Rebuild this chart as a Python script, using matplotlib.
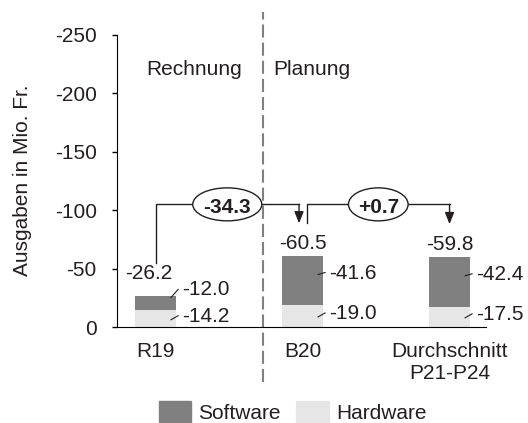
import numpy as np
import matplotlib.pyplot as plt
from matplotlib.patches import Patch, Ellipse

plt.rcParams['font.family'] = ['Liberation Sans', 'DejaVu Sans']
plt.rcParams['axes.unicode_minus'] = False

# data (Mio. Fr.)
categories = ['R19', 'B20', 'Durchschnitt\nP21-P24']
hardware = [-14.2, -19.0, -17.5]
software = [-12.0, -41.6, -42.4]
totals = [-26.2, -60.5, -59.8]
yticks = [0, -50, -100, -150, -200, -250]

sw_color = '#808080'
hw_color = '#e6e6e6'
txt = '#231f20'
fs = 15

W, H = 528, 423
fig = plt.figure(figsize=(W / 100, H / 100), dpi=100)
ax = fig.add_axes([117 / W, 1 - 327 / H, 369 / W, 292 / H])
x = np.arange(len(categories))
xlim = (-0.262, 2.248)
ax.set_xlim(*xlim)
ax.set_ylim(0, -250)

# pixel -> data helpers
sx = (xlim[1] - xlim[0]) / 369
sy = 250 / 292
def dpx(d):
    return d * sx
def upx(d):
    return d * sy

bw = 0.28
ax.bar(x, hardware, bw, color=hw_color, zorder=2)
ax.bar(x, software, bw, bottom=hardware, color=sw_color, zorder=2)

# total labels
tot_dx = [-7, 0, 0]
tot_lift = [17, 7, 7]
for i, t in enumerate(totals):
    ax.text(x[i] + dpx(tot_dx[i]), t - upx(tot_lift[i]), f'{t:.1f}',
            ha='center', va='baseline', fontsize=fs, color=txt)

# segment labels with leader lines
def seg_label(i, mid, base, value):
    right = x[i] + bw / 2
    ax.text(right + dpx(6), base, f'{value:.1f}', ha='left', va='baseline',
            fontsize=fs, color=txt)
    cy = base - upx(6)
    ax.plot([right - dpx(5), right + dpx(2)], [mid, cy], color=txt, lw=0.8,
            zorder=3)

sw_lift = [8, 2, 2]
for i in range(len(categories)):
    hmid = hardware[i] / 2
    hbase = hmid + upx(3)
    seg_label(i, hbase - upx(2), hbase, hardware[i])
    smid = hardware[i] + software[i] / 2
    sbase = smid - upx(sw_lift[i])
    seg_label(i, sbase - upx(6) + upx(sw_lift[i]), sbase, software[i])

# change brackets
renderer = fig.canvas.get_renderer()
bracket_y = -105
gap = 33
n = len(totals)
for i in range(n - 1):
    x0 = x[i] + (dpx(4.5) if i > 0 else 0)
    x1 = x[i + 1] - (dpx(3.5) if i + 1 < n - 1 else 0)
    y0 = totals[i] - upx(gap)
    y1 = totals[i + 1] - upx(gap)
    ax.plot([x0, x0, x1], [y0, bracket_y, bracket_y], color=txt, lw=1,
            solid_joinstyle='miter')
    ax.annotate('', xy=(x1, y1), xytext=(x1, bracket_y),
                arrowprops=dict(arrowstyle='-|>,head_length=0.7,head_width=0.28',
                                color=txt, lw=1, shrinkA=0, shrinkB=0,
                                mutation_scale=10))
    delta = totals[i + 1] - totals[i]
    xm = (x0 + x1) / 2
    t = ax.text(xm, bracket_y + upx(1), f'{delta:+.1f}', ha='center',
                va='center_baseline', fontsize=fs, fontweight='bold',
                color=txt, zorder=5)
    tw = t.get_window_extent(renderer).width
    ax.add_patch(Ellipse((xm, bracket_y), dpx(tw * 1.45), upx(33), fc='white',
                         ec=txt, lw=1, zorder=4))

# Rechnung / Planung divider
div = 0.73
ax.axvline(div, ymin=-0.188, ymax=1.079, clip_on=False, color='#808080',
           lw=1.5, linestyle=(0, (6.3, 2.4)))
ax.text(div - dpx(21), -216, 'Rechnung', ha='right', va='baseline',
        fontsize=fs, color=txt)
ax.text(div + dpx(10), -216, 'Planung', ha='left', va='baseline',
        fontsize=fs, color=txt)

ax.spines['top'].set_visible(False)
ax.spines['right'].set_visible(False)
ax.set_yticks(yticks, [str(v) for v in yticks])
ax.set_xticks(x, categories)
ax.tick_params(axis='x', length=0, pad=11, labelsize=fs, labelcolor=txt)
ax.tick_params(axis='y', length=3.6, width=1, pad=11, labelsize=fs,
               labelcolor=txt)

fig.text(23 / W, 1 - 180 / H, 'Ausgaben in Mio. Fr.', rotation=90,
         ha='center', va='center', fontsize=fs, color=txt)

handles = [Patch(color=sw_color, label='Software'),
           Patch(color=hw_color, label='Hardware')]
fig.legend(handles=handles, loc='center', bbox_to_anchor=(292.5 / W, 1 - 412 / H),
           ncol=2, frameon=False, fontsize=fs, labelcolor=txt,
           handlelength=1.55, handleheight=1.15, handletextpad=0.35,
           columnspacing=0.75)

fig.savefig('out.png', dpi=100)
